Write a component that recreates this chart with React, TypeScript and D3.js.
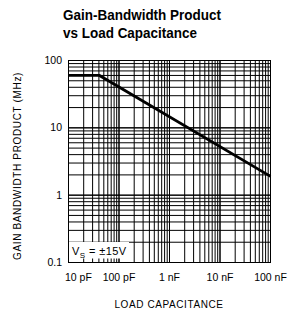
import React from "react";
import * as d3 from "d3";

const xTickValues = [10, 100, 1000, 10000, 100000];
const xTickLabels = ["10 pF", "100 pF", "1 nF", "10 nF", "100 nF"];
const yTickValues = [0.1, 1, 10, 100];
const yTickLabels = ["0.1", "1", "10", "100"];
// Load capacitance (pF) vs gain-bandwidth product (MHz)
const capPF = [10, 41, 100000];
const gbwMHz = [60, 60, 1.9];

const W = 288;
const H = 316;

export default function App() {
  const x = d3.scaleLog().domain([10, 100000]).range([68.5, 270.5]);
  const y = d3.scaleLog().domain([0.1, 100]).range([262.5, 60.5]);

  const xGrid: number[] = [];
  for (let e = 1; e < 5; e++) for (let k = 1; k <= 10; k++) xGrid.push(k * Math.pow(10, e));
  const yGrid: number[] = [];
  for (let e = -1; e < 2; e++) for (let k = 1; k <= 10; k++) yGrid.push(k * Math.pow(10, e));

  const line = d3
    .line<number>()
    .x((_, i) => x(capPF[i]))
    .y((d) => y(d));

  const font = "'Liberation Sans', Arial, Helvetica, sans-serif";
  const [x0, x1] = x.range();
  const [y0, y1] = y.range();

  return (
    <svg
      width={W}
      height={H}
      viewBox={`0 0 ${W} ${H}`}
      style={{ position: "absolute", left: 0, top: 0, background: "#fff" }}
      fontFamily={font}
    >
      <rect x={0} y={0} width={W} height={H} fill="#fff" />
      <text
        x={63}
        y={19.5}
        fontSize={15}
        fontWeight="bold"
        fontFamily="'Liberation Sans Narrow', 'Liberation Sans', Arial, sans-serif"
        textLength={158}
        lengthAdjust="spacingAndGlyphs"
        fill="#000"
      >
        Gain-Bandwidth Product
      </text>
      <text
        x={63}
        y={37.5}
        fontSize={15}
        fontWeight="bold"
        fontFamily="'Liberation Sans Narrow', 'Liberation Sans', Arial, sans-serif"
        textLength={134}
        lengthAdjust="spacingAndGlyphs"
        fill="#000"
      >
        vs Load Capacitance
      </text>

      {xGrid.map((v, i) => (
        <line key={"xg" + i} x1={x(v)} x2={x(v)} y1={y1} y2={y0} stroke="#000" strokeWidth={1} />
      ))}
      {yGrid.map((v, i) => (
        <line key={"yg" + i} x1={x0} x2={x1} y1={y(v)} y2={y(v)} stroke="#000" strokeWidth={1} />
      ))}
      <rect x={x0} y={y1} width={x1 - x0} height={y0 - y1} fill="none" stroke="#000" strokeWidth={1} />

      <path d={line(gbwMHz) || ""} fill="none" stroke="#000" strokeWidth={2.8} />

      <rect x={x0 + 0.5} y={242} width={60} height={16.5} fill="#fff" />
      <text x={72} y={254.5} fontSize={11} fill="#000" letterSpacing={0.4}>
        V<tspan fontSize={8} dy={3}>S</tspan>
        <tspan dy={-3}> = ±15V</tspan>
      </text>

      {xTickValues.map((v, i) => (
        <text
          key={"xt" + i}
          x={i === 0 ? 65 : x(v)}
          y={281}
          fontSize={10.5}
          textAnchor={i === 0 ? "start" : "middle"}
          fill="#000"
        >
          {xTickLabels[i]}
        </text>
      ))}
      {yTickValues.map((v, i) => (
        <text key={"yt" + i} x={62} y={y(v) + 3.5} fontSize={10.5} textAnchor="end" fill="#000">
          {yTickLabels[i]}
        </text>
      ))}

      <text x={169} y={308} fontSize={10} textAnchor="middle" letterSpacing={0.6} fill="#000">
        LOAD CAPACITANCE
      </text>
      <text
        transform="translate(21,166) rotate(-90)"
        fontSize={10}
        textAnchor="middle"
        letterSpacing={0.65}
        fill="#000"
      >
        GAIN BANDWIDTH PRODUCT (MHz)
      </text>
    </svg>
  );
}
